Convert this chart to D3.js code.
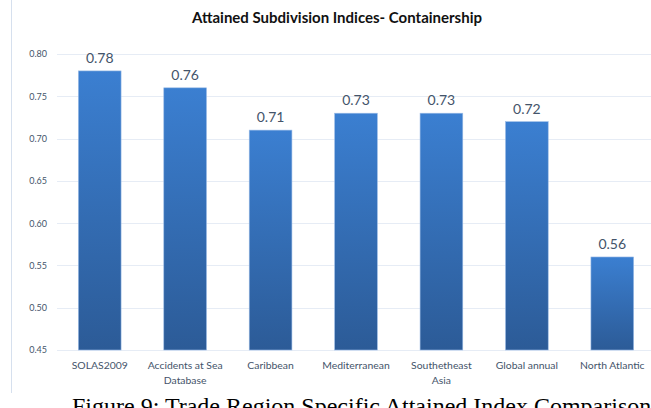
<!DOCTYPE html>
<html>
<head>
<meta charset="utf-8">
<script src="https://cdn.jsdelivr.net/npm/d3@7"></script>
<style>
  html, body { margin: 0; padding: 0; background: #fff; }
  svg { display: block; }
</style>
</head>
<body>
<svg id="chart" width="651" height="408"></svg>
<script>
// Attained subdivision index per trade region (containership)
const categories = [
  ["SOLAS2009"],
  ["Accidents at Sea", "Database"],
  ["Caribbean"],
  ["Mediterranean"],
  ["Southetheast", "Asia"],
  ["Global annual"],
  ["North Atlantic"]
];
const values = [0.78, 0.76, 0.71, 0.73, 0.73, 0.72, 0.56];
const yTicks = [0.45, 0.50, 0.55, 0.60, 0.65, 0.70, 0.75, 0.80];

const svg = d3.select("#chart");
const W = 651, H = 408;
const plot = { left: 57, right: 655, top: 54, bottom: 350 };
const textColor = "#44546a";
const font = "Lato, 'Open Sans', sans-serif";

// chart area frame edge on the left
svg.append("line")
  .attr("x1", 11.5).attr("x2", 11.5)
  .attr("y1", 0).attr("y2", 393)
  .attr("stroke", "#d6e0ee").attr("stroke-width", 1);

const x = d3.scaleBand()
  .domain(categories.map((c, i) => i))
  .range([plot.left, plot.right])
  .paddingInner(0.5).paddingOuter(0.25);

const y = d3.scaleLinear()
  .domain([0.45, 0.80])
  .range([plot.bottom, plot.top]);

// bar fill gradient
const defs = svg.append("defs");
const grad = defs.append("linearGradient")
  .attr("id", "barFill")
  .attr("x1", 0).attr("y1", 0).attr("x2", 0).attr("y2", 1);
grad.append("stop").attr("offset", "0%").attr("stop-color", "#3b7fd1");
grad.append("stop").attr("offset", "100%").attr("stop-color", "#2c5b97");

// gridlines
svg.append("g")
  .selectAll("line")
  .data(yTicks)
  .join("line")
  .attr("x1", plot.left).attr("x2", W)
  .attr("y1", d => Math.round(y(d)) + 0.5)
  .attr("y2", d => Math.round(y(d)) + 0.5)
  .attr("stroke", "#e6ecf5")
  .attr("stroke-width", 1);

// y axis labels
const yAxis = d3.axisLeft(y)
  .tickValues(yTicks)
  .tickFormat(d3.format(".2f"))
  .tickSize(0)
  .tickPadding(10);
const gy = svg.append("g")
  .attr("transform", `translate(${plot.left},0)`)
  .call(yAxis);
gy.select(".domain").remove();
gy.selectAll("text")
  .attr("fill", textColor)
  .style("font-family", font)
  .style("font-size", "9px");

// bars
svg.append("g")
  .selectAll("rect")
  .data(values)
  .join("rect")
  .attr("x", (d, i) => x(i))
  .attr("y", d => y(d))
  .attr("width", x.bandwidth())
  .attr("height", d => y(0.45) - y(d))
  .attr("fill", "url(#barFill)")
  .attr("stroke", "#9bbbe6")
  .attr("stroke-width", 0.6);

// value labels
svg.append("g")
  .selectAll("text")
  .data(values)
  .join("text")
  .attr("x", (d, i) => x(i) + x.bandwidth() / 2)
  .attr("y", d => y(d) - 8)
  .attr("text-anchor", "middle")
  .attr("fill", textColor)
  .style("font-family", font)
  .style("font-size", "14px")
  .text(d => d3.format(".2f")(d));

// category labels
const xAxis = d3.axisBottom(x).tickSize(0).tickFormat("");
const gx = svg.append("g")
  .attr("transform", `translate(0,${plot.bottom})`)
  .call(xAxis);
gx.select(".domain").remove();
gx.selectAll(".tick").each(function(i) {
  const t = d3.select(this).append("text")
    .attr("text-anchor", "middle")
    .attr("fill", textColor)
    .style("font-family", font)
    .style("font-size", "10.4px");
  categories[i].forEach((line, k) => {
    t.append("tspan").attr("x", 0).attr("y", 19 + k * 14.5).text(line);
  });
});

// title
svg.append("text")
  .attr("x", 337).attr("y", 23)
  .attr("text-anchor", "middle")
  .attr("fill", "#111")
  .style("font-family", font)
  .style("font-weight", "bold")
  .style("font-size", "15px")
  .text("Attained Subdivision Indices- Containership");

// figure caption (runs off the bottom edge of the page)
svg.append("text")
  .attr("x", 72).attr("y", 414)
  .attr("fill", "#000")
  .style("font-family", "'Liberation Serif', 'Times New Roman', serif")
  .style("font-size", "24px")
  .text("Figure 9: Trade Region Specific Attained Index Comparison");
</script>
</body>
</html>
